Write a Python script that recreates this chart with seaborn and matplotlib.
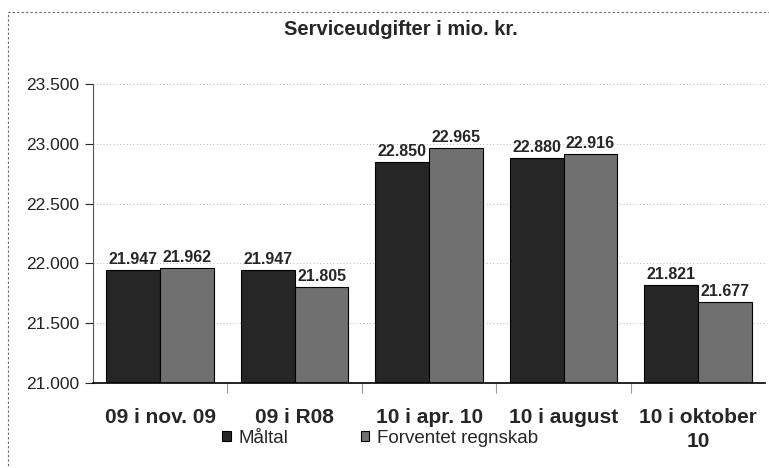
import matplotlib
matplotlib.use("Agg")
import matplotlib.pyplot as plt
import seaborn as sns
import pandas as pd
from matplotlib.patches import Rectangle

categories = ["09 i nov. 09", "09 i R08", "10 i apr. 10", "10 i august", "10 i oktober\n10"]
maaltal = [21947, 21947, 22850, 22880, 21821]
forventet = [21962, 21805, 22965, 22916, 21677]
series = ["Måltal", "Forventet regnskab"]
yticks = [21000, 21500, 22000, 22500, 23000, 23500]


def dk(v):
    return f"{v:,.0f}".replace(",", ".")


df = pd.DataFrame({
    "kategori": categories * 2,
    "serie": [series[0]] * len(categories) + [series[1]] * len(categories),
    "værdi": maaltal + forventet,
})

sns.set_style("white")
plt.rcParams["font.family"] = ["Liberation Sans", "DejaVu Sans"]

fig = plt.figure(figsize=(7.69, 4.68), dpi=100)
ax = fig.add_axes([0.121, 0.1816, 0.874, 0.639])

sns.barplot(data=df, x="kategori", y="værdi", hue="serie", ax=ax,
            palette=["#262626", "#707070"], saturation=1, width=0.8,
            edgecolor="black", linewidth=0.8, legend=True)

ax.set_ylim(21000, 23500)
ax.set_yticks(yticks)
ax.set_yticklabels([dk(v) for v in yticks], fontsize=12.5, color="#222222")
ax.set_xlabel("")
ax.set_ylabel("")
ax.set_xticks([i + 0.5 for i in range(len(categories) - 1)], minor=True)
ax.tick_params(axis="x", which="major", length=0, pad=18)
ax.tick_params(axis="x", which="minor", length=7, width=0.8, color="#999999",
               direction="out", bottom=True)
ax.tick_params(axis="y", length=6, direction="out", left=True, pad=4)
for lbl in ax.get_xticklabels():
    lbl.set_fontsize(15)
    lbl.set_fontweight("bold")
    lbl.set_verticalalignment("top")
    lbl.set_linespacing(1.3)

ax.yaxis.grid(True, linestyle=(0, (1, 3)), color="#999999", linewidth=0.6)
ax.set_axisbelow(True)
for s in ["top", "right"]:
    ax.spines[s].set_visible(False)
ax.spines["left"].set_color("#555555")
ax.spines["bottom"].set_color("black")
ax.spines["bottom"].set_linewidth(1.2)

for cont in ax.containers:
    ax.bar_label(cont, labels=[dk(v) for v in cont.datavalues],
                 fontsize=11.5, fontweight="bold", padding=2)

ax.legend(loc="center left", bbox_to_anchor=(0.192, -0.184), ncol=2,
          frameon=False, fontsize=13.5, handlelength=0.45, handleheight=0.45,
          columnspacing=3.85, handletextpad=0.43, borderpad=0, borderaxespad=0)

fig.text(0.521, 0.938, "Serviceudgifter i mio. kr.", ha="center", va="center",
         fontsize=14.5, fontweight="bold")

fig.patches.append(Rectangle((0.011, -0.01), 0.995, 0.985, transform=fig.transFigure,
                             fill=False, edgecolor="#666666", linewidth=0.8,
                             linestyle=(0, (2, 2))))

fig.savefig("out.png", dpi=100)
